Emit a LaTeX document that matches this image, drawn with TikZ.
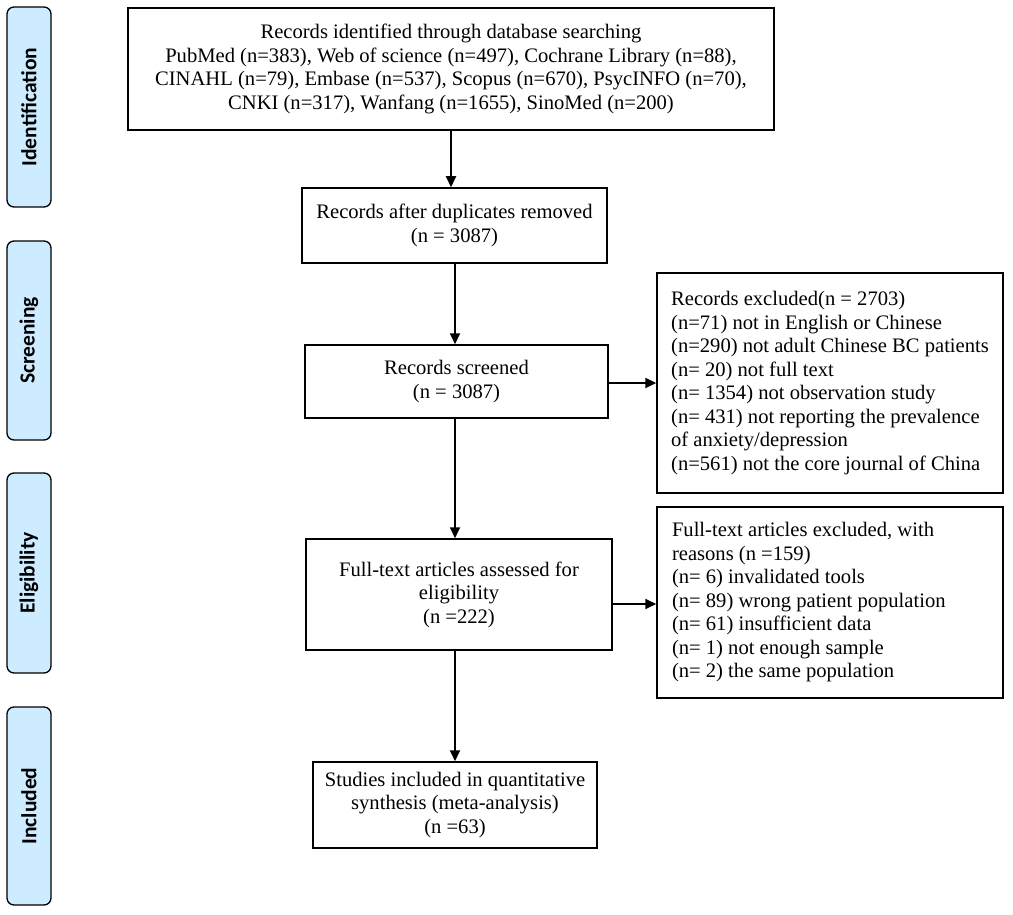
\documentclass[tikz,border=0pt]{standalone}
\usepackage{fontspec}
\setmainfont{Liberation Serif}
\newfontfamily\sidefont{Carlito}
\usetikzlibrary{arrows.meta}
\definecolor{sideblue}{RGB}{206,236,255}
\newcommand{\exline}[1]{\makebox[316pt][l]{#1}}
\begin{document}
\begin{tikzpicture}[x=1pt,y=-1pt,
  box/.style={draw, line width=1.5pt, align=center, inner sep=0pt, font=\fontsize{20.6}{23.5}\selectfont},
  exbox/.style={box, align=left},
  side/.style={draw, line width=1.3pt, fill=sideblue, rounded corners=7pt, minimum width=44pt, inner sep=0pt, font=\sidefont\bfseries\fontsize{21.5}{24}\selectfont},
  arr/.style={-{Triangle[length=11pt,width=10pt]}, line width=2pt}]
\useasboundingbox (0,0) rectangle (1013,915);

% side labels
\node[side, minimum height=200pt] (sid) at (29,107) {\rotatebox{90}{Identification}};
\node[side, minimum height=199pt] (sscr) at (29,340.5) {\rotatebox{90}{Screening}};
\node[side, minimum height=200pt] (selg) at (29,573) {\rotatebox{90}{Eligibility}};
\node[side, minimum height=198pt] (sinc) at (29,806) {\rotatebox{90}{Included}};

% main boxes
\node[box, minimum width=646pt, minimum height=122pt] (n1) at (451,69)
  {Records identified through database searching\\
   PubMed (n=383), Web of science (n=497), Cochrane Library (n=88),\\
   CINAHL (n=79), Embase (n=537), Scopus (n=670), PsycINFO (n=70),\\
   CNKI (n=317), Wanfang (n=1655), SinoMed (n=200)};
\node[box, minimum width=305pt, minimum height=75pt] (n2) at (454.5,225.5)
  {Records after duplicates removed\\(n = 3087)};
\node[box, minimum width=303pt, minimum height=73pt] (n3) at (456.5,381.5)
  {Records screened\\(n = 3087)};
\node[box, minimum width=306pt, minimum height=111pt] (n4) at (459,594.5)
  {Full-text articles assessed for\\eligibility\\(n =222)};
\node[box, minimum width=284pt, minimum height=86pt] (n5) at (455,805)
  {Studies included in quantitative\\synthesis (meta-analysis)\\(n =63)};

% exclusion boxes
\node[exbox, minimum width=346pt, minimum height=220pt] (e1) at (830,383)
  {\exline{Records excluded(n = 2703)}\\
   (n=71) not in English or Chinese\\
   (n=290) not adult Chinese BC patients\\
   (n= 20) not full text\\
   (n= 1354) not observation study\\
   (n= 431) not reporting the prevalence\\
   of anxiety/depression\\
   (n=561) not the core journal of China};
\node[exbox, minimum width=346pt, minimum height=191pt] (e2) at (830,602.5)
  {\exline{Full-text articles excluded, with}\\
   reasons (n =159)\\
   (n= 6) invalidated tools\\
   (n= 89) wrong patient population\\
   (n= 61) insufficient data\\
   (n= 1) not enough sample\\
   (n= 2) the same population};

% arrow axis
\coordinate (ax) at (455,0);
\coordinate (ay1) at (0,383);
\coordinate (ay2) at (0,604);

% arrows
\draw[arr] (n1.south -| n1.center) -- (n2.north -| n1.center);
\draw[arr] (n2.south -| ax) -- (n3.north -| ax);
\draw[arr] (n3.south -| ax) -- (n4.north -| ax);
\draw[arr] (n4.south -| ax) -- (n5.north -| ax);
\draw[arr] (n3.east |- ay1) -- (e1.west |- ay1);
\draw[arr] (n4.east |- ay2) -- (e2.west |- ay2);
\end{tikzpicture}
\end{document}
